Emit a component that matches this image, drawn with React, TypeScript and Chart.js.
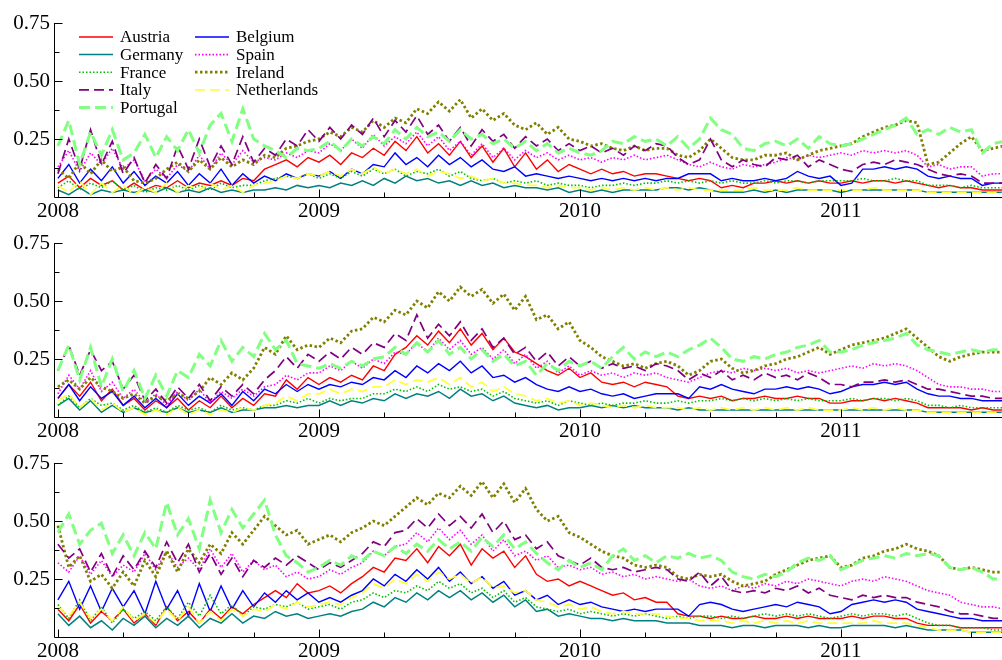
import React, { useEffect, useRef } from "react";
import { Chart, registerables } from "chart.js";

Chart.register(...registerables);

// Sampling grid: values are read every half month starting January 2008.
const START_YEAR = 2008;
const STEPS_PER_YEAR = 24;

const countries = [
  "Austria", "Belgium", "Germany", "Spain", "France",
  "Ireland", "Italy", "Netherlands", "Portugal",
];

const yearTicks = [2008, 2009, 2010, 2011];
const valueTicks = [0.25, 0.5, 0.75];

// ---------- Panel A (top) ----------
const austriaA = [
  0.06, 0.09, 0.04, 0.08, 0.05, 0.07, 0.03, 0.06, 0.03, 0.05, 0.04, 0.07, 0.04, 0.06, 0.05, 0.07, 0.05, 0.08, 0.07, 0.12, 0.14, 0.16, 0.13, 0.17,
  0.15, 0.18, 0.14, 0.19, 0.17, 0.21, 0.18, 0.24, 0.2, 0.26, 0.19, 0.23, 0.18, 0.24, 0.17, 0.22, 0.15, 0.21, 0.13, 0.19, 0.12, 0.16, 0.11, 0.14,
  0.12, 0.1, 0.12, 0.1, 0.11, 0.09, 0.1, 0.1, 0.09, 0.08, 0.07, 0.08, 0.07, 0.04, 0.05, 0.04, 0.06, 0.06, 0.07, 0.06, 0.07, 0.06, 0.07, 0.06,
  0.06, 0.07, 0.06, 0.07, 0.07, 0.06, 0.07, 0.06, 0.05, 0.04, 0.05, 0.04, 0.04, 0.03, 0.03, 0.03,
];
const belgiumA = [
  0.08, 0.14, 0.06, 0.12, 0.07, 0.13, 0.06, 0.11, 0.05, 0.09, 0.06, 0.11, 0.05, 0.1, 0.06, 0.12, 0.05, 0.1, 0.06, 0.09, 0.07, 0.1, 0.08, 0.1,
  0.09, 0.11, 0.08, 0.12, 0.1, 0.14, 0.13, 0.19, 0.14, 0.17, 0.13, 0.18, 0.14, 0.17, 0.13, 0.16, 0.12, 0.11, 0.13, 0.09, 0.1, 0.09, 0.08, 0.09,
  0.08, 0.07, 0.08, 0.07, 0.08, 0.07, 0.08, 0.07, 0.08, 0.08, 0.1, 0.1, 0.1, 0.07, 0.08, 0.07, 0.07, 0.08, 0.07, 0.08, 0.11, 0.09, 0.08, 0.09,
  0.05, 0.06, 0.12, 0.12, 0.13, 0.12, 0.13, 0.12, 0.09, 0.08, 0.09, 0.08, 0.08, 0.05, 0.06, 0.06,
];
const germanyA = [
  0.03, 0.01, 0.04, 0.01, 0.03, 0.02, 0.03, 0.02, 0.03, 0.02, 0.04, 0.02, 0.03, 0.02, 0.04, 0.02, 0.03, 0.02, 0.03, 0.03, 0.04, 0.03, 0.05, 0.04,
  0.05, 0.04, 0.06, 0.05, 0.07, 0.05, 0.08, 0.06, 0.09, 0.07, 0.08, 0.06, 0.07, 0.05, 0.07, 0.05, 0.06, 0.04, 0.05, 0.04, 0.04, 0.03, 0.04, 0.02,
  0.03, 0.02, 0.03, 0.02, 0.03, 0.03, 0.03, 0.03, 0.04, 0.04, 0.03, 0.04, 0.03, 0.02, 0.02, 0.02, 0.03, 0.02, 0.03, 0.02, 0.03, 0.03, 0.03, 0.03,
  0.02, 0.03, 0.03, 0.03, 0.03, 0.03, 0.03, 0.03, 0.02, 0.02, 0.02, 0.02, 0.02, 0.02, 0.02, 0.02,
];
const spainA = [
  0.13, 0.2, 0.11, 0.19, 0.14, 0.21, 0.12, 0.16, 0.07, 0.12, 0.08, 0.14, 0.11, 0.18, 0.12, 0.19, 0.14, 0.2, 0.15, 0.17, 0.16, 0.19, 0.17, 0.2,
  0.19, 0.23, 0.2, 0.25, 0.21, 0.27, 0.22, 0.26, 0.23, 0.28, 0.22, 0.26, 0.2, 0.24, 0.18, 0.23, 0.17, 0.21, 0.16, 0.2, 0.17, 0.19, 0.16, 0.18,
  0.16, 0.17, 0.15, 0.17, 0.16, 0.18, 0.16, 0.17, 0.18, 0.16, 0.14, 0.13, 0.15, 0.13, 0.12, 0.14, 0.13, 0.14, 0.15, 0.17, 0.16, 0.18, 0.17, 0.18,
  0.19, 0.18, 0.2, 0.19, 0.2, 0.19, 0.2, 0.18, 0.13, 0.14, 0.12, 0.13, 0.13, 0.09, 0.1, 0.1,
];
const franceA = [
  0.04, 0.07, 0.03, 0.06, 0.04, 0.07, 0.03, 0.05, 0.02, 0.04, 0.03, 0.05, 0.03, 0.05, 0.03, 0.06, 0.04, 0.05, 0.05, 0.07, 0.08, 0.09, 0.08, 0.1,
  0.08, 0.1, 0.08, 0.11, 0.09, 0.12, 0.1, 0.12, 0.09, 0.11, 0.1, 0.12, 0.09, 0.11, 0.08, 0.07, 0.08, 0.06, 0.07, 0.06, 0.07, 0.05, 0.06, 0.05,
  0.05, 0.04, 0.05, 0.05, 0.06, 0.05, 0.06, 0.06, 0.07, 0.06, 0.07, 0.06, 0.07, 0.06, 0.07, 0.06, 0.06, 0.07, 0.06, 0.07, 0.07, 0.06, 0.07, 0.07,
  0.07, 0.07, 0.08, 0.07, 0.07, 0.08, 0.07, 0.07, 0.05, 0.05, 0.05, 0.04, 0.05, 0.04, 0.04, 0.04,
];
const irelandA = [
  0.12, 0.08, 0.15, 0.1, 0.16, 0.11, 0.13, 0.07, 0.06, 0.08, 0.12, 0.15, 0.11, 0.16, 0.12, 0.17, 0.13, 0.16, 0.14, 0.18, 0.17, 0.21, 0.22, 0.24,
  0.25, 0.28, 0.26, 0.3, 0.28, 0.33, 0.3, 0.34, 0.32, 0.38, 0.36, 0.41, 0.37, 0.42, 0.34, 0.38, 0.33, 0.36, 0.31, 0.29, 0.32, 0.27, 0.3, 0.25,
  0.24, 0.22, 0.23, 0.21, 0.2, 0.22, 0.2, 0.21, 0.21, 0.18, 0.17, 0.2, 0.25, 0.21, 0.17, 0.16, 0.16, 0.18, 0.18, 0.19, 0.16, 0.18, 0.2, 0.21,
  0.22, 0.23, 0.26, 0.28, 0.3, 0.31, 0.33, 0.32, 0.14, 0.15, 0.19, 0.23, 0.26, 0.2, 0.21, 0.22,
];
const italyA = [
  0.1, 0.25, 0.12, 0.29, 0.14, 0.24, 0.1, 0.17, 0.06, 0.14, 0.08, 0.22, 0.12, 0.25, 0.13, 0.22, 0.14, 0.26, 0.15, 0.21, 0.18, 0.25, 0.22, 0.29,
  0.24, 0.3, 0.25, 0.31, 0.27, 0.34, 0.26, 0.33, 0.28, 0.35, 0.27, 0.31, 0.24, 0.3, 0.22, 0.29, 0.24, 0.27, 0.21, 0.26, 0.22, 0.25, 0.2, 0.23,
  0.2, 0.22, 0.19, 0.21, 0.18, 0.22, 0.2, 0.23, 0.22, 0.17, 0.14, 0.16, 0.25, 0.16, 0.13, 0.16, 0.14, 0.13, 0.17, 0.16, 0.18, 0.13, 0.16, 0.14,
  0.12, 0.11, 0.14, 0.15, 0.14, 0.16, 0.15, 0.14, 0.12, 0.1, 0.09, 0.1, 0.09, 0.06, 0.06, 0.06,
];
const netherlandsA = [
  0.05, 0.02, 0.07, 0.01, 0.06, 0.02, 0.05, 0.01, 0.04, 0.02, 0.06, 0.02, 0.05, 0.03, 0.06, 0.03, 0.05, 0.02, 0.05, 0.06, 0.07, 0.09, 0.08, 0.1,
  0.09, 0.11, 0.09, 0.12, 0.1, 0.13, 0.1, 0.12, 0.1, 0.12, 0.09, 0.11, 0.1, 0.08, 0.09, 0.07, 0.08, 0.06, 0.06, 0.05, 0.05, 0.04, 0.05, 0.04,
  0.04, 0.03, 0.04, 0.03, 0.04, 0.03, 0.04, 0.03, 0.04, 0.03, 0.04, 0.03, 0.03, 0.03, 0.03, 0.03, 0.04, 0.03, 0.03, 0.03, 0.04, 0.03, 0.03, 0.03,
  0.03, 0.03, 0.03, 0.04, 0.03, 0.03, 0.03, 0.03, 0.02, 0.02, 0.02, 0.02, 0.02, 0.02, 0.02, 0.02,
];
const portugalA = [
  0.22, 0.33, 0.14, 0.28, 0.18, 0.29, 0.16, 0.19, 0.27, 0.17, 0.26, 0.2, 0.29, 0.19, 0.31, 0.36, 0.24, 0.38, 0.25, 0.22, 0.2, 0.17, 0.21, 0.2,
  0.21, 0.24, 0.2, 0.25, 0.22, 0.26, 0.23, 0.29, 0.25, 0.3, 0.26, 0.28, 0.24, 0.29, 0.25, 0.27, 0.23, 0.25, 0.21, 0.24, 0.2, 0.23, 0.19, 0.21,
  0.19, 0.18, 0.2, 0.24, 0.23, 0.26, 0.24, 0.25, 0.22, 0.26, 0.21, 0.25, 0.34, 0.29, 0.27, 0.21, 0.2, 0.23, 0.24, 0.22, 0.25, 0.21, 0.26, 0.23,
  0.22, 0.23, 0.25, 0.27, 0.29, 0.31, 0.34, 0.27, 0.29, 0.27, 0.3, 0.28, 0.29, 0.19, 0.23, 0.24,
];

// ---------- Panel B (middle) ----------
const austriaB = [
  0.08, 0.14, 0.09, 0.15, 0.07, 0.12, 0.05, 0.08, 0.03, 0.07, 0.04, 0.08, 0.03, 0.07, 0.04, 0.09, 0.04, 0.08, 0.05, 0.1, 0.09, 0.16, 0.12, 0.17,
  0.14, 0.17, 0.15, 0.18, 0.16, 0.22, 0.2, 0.27, 0.3, 0.35, 0.31, 0.37, 0.32, 0.38, 0.31, 0.36, 0.29, 0.34, 0.28, 0.26, 0.23, 0.2, 0.18, 0.21,
  0.17, 0.19, 0.15, 0.14, 0.15, 0.13, 0.15, 0.14, 0.13, 0.09, 0.08, 0.09, 0.08, 0.09, 0.07, 0.08, 0.08, 0.09, 0.08, 0.08, 0.09, 0.08, 0.08, 0.06,
  0.06, 0.07, 0.07, 0.08, 0.07, 0.08, 0.07, 0.06, 0.04, 0.04, 0.04, 0.04, 0.03, 0.04, 0.03, 0.03,
];
const belgiumB = [
  0.08, 0.14, 0.07, 0.13, 0.08, 0.11, 0.05, 0.09, 0.04, 0.08, 0.04, 0.1, 0.05, 0.09, 0.06, 0.1, 0.05, 0.11, 0.07, 0.12, 0.1, 0.14, 0.11, 0.14,
  0.12, 0.14, 0.13, 0.15, 0.14, 0.17, 0.16, 0.2, 0.17, 0.22, 0.19, 0.23, 0.2, 0.24, 0.19, 0.22, 0.17, 0.18, 0.15, 0.17, 0.14, 0.12, 0.11, 0.13,
  0.11, 0.12, 0.1, 0.09, 0.1, 0.08, 0.09, 0.1, 0.1, 0.1, 0.08, 0.13, 0.12, 0.14, 0.12, 0.11, 0.1, 0.12, 0.12, 0.13, 0.12, 0.13, 0.12, 0.1,
  0.11, 0.13, 0.14, 0.14, 0.15, 0.14, 0.15, 0.12, 0.1, 0.09, 0.09, 0.08, 0.08, 0.07, 0.07, 0.07,
];
const germanyB = [
  0.05, 0.08, 0.03, 0.07, 0.02, 0.05, 0.02, 0.04, 0.02, 0.03, 0.02, 0.04, 0.02, 0.03, 0.02, 0.04, 0.02, 0.03, 0.03, 0.04, 0.04, 0.05, 0.04, 0.05,
  0.05, 0.07, 0.05, 0.07, 0.06, 0.08, 0.07, 0.1, 0.08, 0.1, 0.09, 0.11, 0.08, 0.12, 0.09, 0.1, 0.07, 0.09, 0.06, 0.05, 0.04, 0.05, 0.03, 0.04,
  0.04, 0.05, 0.04, 0.05, 0.04, 0.05, 0.04, 0.04, 0.04, 0.03, 0.04, 0.03, 0.03, 0.03, 0.03, 0.03, 0.03, 0.03, 0.03, 0.03, 0.03, 0.03, 0.03, 0.03,
  0.03, 0.03, 0.03, 0.03, 0.03, 0.03, 0.03, 0.03, 0.02, 0.02, 0.02, 0.02, 0.02, 0.02, 0.02, 0.02,
];
const spainB = [
  0.1, 0.18, 0.12, 0.2, 0.11, 0.15, 0.08, 0.12, 0.06, 0.1, 0.05, 0.11, 0.07, 0.12, 0.06, 0.11, 0.08, 0.12, 0.09, 0.13, 0.14, 0.18, 0.16, 0.19,
  0.19, 0.22, 0.2, 0.24, 0.21, 0.25, 0.23, 0.28, 0.27, 0.32, 0.28, 0.34, 0.29, 0.33, 0.27, 0.3, 0.25, 0.29, 0.23, 0.27, 0.21, 0.24, 0.19, 0.22,
  0.18, 0.2, 0.18, 0.19, 0.17, 0.19, 0.18, 0.19, 0.17, 0.16, 0.15, 0.17, 0.19, 0.2, 0.19, 0.21, 0.2, 0.21, 0.2, 0.21, 0.19, 0.2, 0.19, 0.2,
  0.21, 0.22, 0.21, 0.23, 0.22, 0.23, 0.22, 0.2, 0.17, 0.14, 0.13, 0.13, 0.12, 0.12, 0.11, 0.11,
];
const franceB = [
  0.05, 0.09, 0.04, 0.08, 0.05, 0.06, 0.03, 0.05, 0.02, 0.04, 0.02, 0.05, 0.03, 0.04, 0.02, 0.05, 0.03, 0.04, 0.03, 0.05, 0.05, 0.07, 0.06, 0.08,
  0.06, 0.08, 0.07, 0.08, 0.08, 0.1, 0.1, 0.12, 0.11, 0.13, 0.11, 0.14, 0.12, 0.13, 0.11, 0.12, 0.09, 0.11, 0.08, 0.07, 0.06, 0.07, 0.05, 0.07,
  0.06, 0.05, 0.06, 0.05, 0.06, 0.06, 0.07, 0.06, 0.06, 0.07, 0.06, 0.07, 0.07, 0.08, 0.07, 0.08, 0.07, 0.08, 0.07, 0.08, 0.07, 0.08, 0.07, 0.07,
  0.07, 0.08, 0.07, 0.08, 0.08, 0.07, 0.08, 0.07, 0.05, 0.05, 0.04, 0.05, 0.04, 0.04, 0.04, 0.04,
];
const irelandB = [
  0.13, 0.16, 0.12, 0.17, 0.13, 0.11, 0.08, 0.1, 0.06, 0.09, 0.07, 0.1, 0.08, 0.11, 0.17, 0.14, 0.19, 0.16, 0.21, 0.3, 0.27, 0.35, 0.29, 0.31,
  0.3, 0.34, 0.32, 0.37, 0.38, 0.43, 0.41, 0.46, 0.44, 0.5, 0.47, 0.54, 0.5, 0.56, 0.52, 0.55, 0.49, 0.53, 0.46, 0.52, 0.42, 0.44, 0.38, 0.41,
  0.33, 0.3, 0.26, 0.24, 0.22, 0.23, 0.21, 0.23, 0.24, 0.22, 0.18, 0.2, 0.24, 0.25, 0.21, 0.19, 0.2, 0.22, 0.23, 0.25, 0.26, 0.28, 0.3, 0.27,
  0.29, 0.31, 0.32, 0.33, 0.34, 0.36, 0.38, 0.34, 0.3, 0.26, 0.24, 0.26, 0.27, 0.28, 0.28, 0.28,
];
const italyB = [
  0.2, 0.31, 0.18, 0.29, 0.2, 0.24, 0.12, 0.18, 0.07, 0.12, 0.06, 0.13, 0.08, 0.14, 0.07, 0.13, 0.09, 0.14, 0.1, 0.16, 0.2, 0.26, 0.21, 0.27,
  0.24, 0.28, 0.25, 0.3, 0.27, 0.32, 0.3, 0.36, 0.33, 0.44, 0.34, 0.4, 0.35, 0.41, 0.33, 0.38, 0.3, 0.34, 0.27, 0.3, 0.24, 0.28, 0.22, 0.26,
  0.22, 0.24, 0.21, 0.23, 0.21, 0.22, 0.2, 0.23, 0.22, 0.2, 0.16, 0.19, 0.17, 0.2, 0.16, 0.18, 0.16, 0.19, 0.17, 0.18, 0.16, 0.19, 0.17, 0.14,
  0.14, 0.13, 0.15, 0.15, 0.16, 0.15, 0.16, 0.14, 0.12, 0.12, 0.11, 0.1, 0.09, 0.09, 0.08, 0.08,
];
const netherlandsB = [
  0.07, 0.1, 0.04, 0.08, 0.03, 0.06, 0.02, 0.04, 0.01, 0.03, 0.01, 0.04, 0.01, 0.03, 0.01, 0.03, 0.02, 0.04, 0.03, 0.05, 0.06, 0.09, 0.07, 0.1,
  0.1, 0.12, 0.1, 0.12, 0.11, 0.13, 0.13, 0.16, 0.14, 0.16, 0.15, 0.17, 0.14, 0.17, 0.13, 0.15, 0.11, 0.13, 0.1, 0.09, 0.07, 0.08, 0.06, 0.07,
  0.05, 0.06, 0.05, 0.04, 0.05, 0.04, 0.05, 0.04, 0.04, 0.04, 0.03, 0.04, 0.03, 0.04, 0.03, 0.04, 0.03, 0.04, 0.03, 0.04, 0.03, 0.04, 0.03, 0.03,
  0.03, 0.04, 0.03, 0.04, 0.03, 0.04, 0.03, 0.03, 0.02, 0.02, 0.02, 0.02, 0.02, 0.02, 0.02, 0.02,
];
const portugalB = [
  0.2, 0.31, 0.16, 0.3, 0.13, 0.25, 0.11, 0.2, 0.08, 0.18, 0.09, 0.2, 0.17, 0.27, 0.22, 0.33, 0.24, 0.3, 0.26, 0.36, 0.29, 0.33, 0.23, 0.22,
  0.21, 0.23, 0.21, 0.24, 0.22, 0.25, 0.26, 0.3, 0.27, 0.32, 0.28, 0.33, 0.27, 0.3, 0.25, 0.29, 0.24, 0.27, 0.22, 0.24, 0.18, 0.23, 0.2, 0.24,
  0.22, 0.24, 0.21, 0.26, 0.3, 0.25, 0.28, 0.26, 0.28, 0.26, 0.29, 0.31, 0.34, 0.3, 0.25, 0.24, 0.26, 0.25, 0.27, 0.28, 0.3, 0.31, 0.33, 0.28,
  0.28, 0.29, 0.31, 0.32, 0.33, 0.34, 0.36, 0.31, 0.29, 0.28, 0.27, 0.28, 0.29, 0.28, 0.29, 0.29,
];

// ---------- Panel C (bottom) ----------
const austriaC = [
  0.12, 0.07, 0.14, 0.06, 0.11, 0.07, 0.12, 0.06, 0.1, 0.05, 0.13, 0.07, 0.11, 0.06, 0.12, 0.08, 0.13, 0.1, 0.14, 0.17, 0.2, 0.17, 0.23, 0.19,
  0.2, 0.22, 0.19, 0.23, 0.26, 0.3, 0.28, 0.34, 0.33, 0.38, 0.32, 0.39, 0.35, 0.4, 0.31, 0.38, 0.34, 0.37, 0.3, 0.35, 0.27, 0.24, 0.25, 0.22,
  0.24, 0.22, 0.2, 0.18, 0.19, 0.16, 0.17, 0.15, 0.15, 0.1, 0.09, 0.09, 0.08, 0.09, 0.08, 0.08, 0.09, 0.08, 0.08, 0.09, 0.08, 0.09, 0.08, 0.08,
  0.08, 0.09, 0.08, 0.09, 0.09, 0.08, 0.08, 0.06, 0.05, 0.05, 0.05, 0.04, 0.04, 0.04, 0.04, 0.04,
];
const belgiumC = [
  0.16, 0.24, 0.12, 0.22, 0.11, 0.21, 0.13, 0.2, 0.1, 0.24, 0.12, 0.2, 0.09, 0.23, 0.11, 0.22, 0.12, 0.2, 0.13, 0.19, 0.15, 0.2, 0.16, 0.19,
  0.15, 0.17, 0.15, 0.18, 0.2, 0.25, 0.22, 0.27, 0.24, 0.29, 0.25, 0.3, 0.24, 0.28, 0.23, 0.26, 0.21, 0.24, 0.18, 0.2, 0.16, 0.18, 0.14, 0.16,
  0.14, 0.15, 0.13, 0.12, 0.11, 0.12, 0.11, 0.12, 0.12, 0.12, 0.09, 0.14, 0.15, 0.14, 0.12, 0.11, 0.12, 0.13, 0.14, 0.13, 0.15, 0.14, 0.13, 0.1,
  0.11, 0.14, 0.15, 0.16, 0.15, 0.16, 0.15, 0.12, 0.11, 0.1, 0.09, 0.08, 0.08, 0.07, 0.07, 0.07,
];
const germanyC = [
  0.1, 0.05, 0.09, 0.04, 0.07, 0.03, 0.08, 0.05, 0.09, 0.04, 0.08, 0.05, 0.09, 0.04, 0.08, 0.06, 0.1, 0.06, 0.09, 0.08, 0.11, 0.09, 0.1, 0.08,
  0.09, 0.1, 0.09, 0.11, 0.12, 0.15, 0.13, 0.17, 0.15, 0.19, 0.16, 0.2, 0.17, 0.2, 0.16, 0.19, 0.15, 0.18, 0.13, 0.16, 0.11, 0.12, 0.09, 0.1,
  0.09, 0.08, 0.08, 0.07, 0.08, 0.07, 0.07, 0.07, 0.06, 0.06, 0.06, 0.05, 0.05, 0.05, 0.04, 0.05, 0.05, 0.04, 0.05, 0.05, 0.05, 0.04, 0.05, 0.04,
  0.04, 0.05, 0.05, 0.05, 0.05, 0.04, 0.05, 0.04, 0.03, 0.03, 0.03, 0.03, 0.02, 0.02, 0.02, 0.02,
];
const spainC = [
  0.32, 0.28, 0.35, 0.27, 0.33, 0.26, 0.31, 0.28, 0.36, 0.29, 0.37, 0.3, 0.34, 0.29, 0.38, 0.3, 0.36, 0.28, 0.33, 0.29, 0.31, 0.26, 0.28, 0.25,
  0.26, 0.29, 0.27, 0.3, 0.32, 0.37, 0.35, 0.39, 0.4, 0.45, 0.41, 0.47, 0.42, 0.46, 0.4, 0.44, 0.37, 0.42, 0.35, 0.37, 0.33, 0.35, 0.3, 0.31,
  0.29, 0.3, 0.27, 0.28, 0.26, 0.27, 0.25, 0.26, 0.25, 0.24, 0.25, 0.22, 0.21, 0.22, 0.2, 0.22, 0.21, 0.23, 0.22, 0.24, 0.23, 0.25, 0.24, 0.23,
  0.22, 0.24, 0.25, 0.24, 0.26, 0.25, 0.24, 0.22, 0.2, 0.19, 0.18, 0.15, 0.14, 0.13, 0.13, 0.12,
];
const franceC = [
  0.14, 0.08, 0.16, 0.07, 0.13, 0.06, 0.12, 0.08, 0.11, 0.07, 0.13, 0.08, 0.15, 0.09, 0.18, 0.1, 0.14, 0.09, 0.13, 0.12, 0.14, 0.13, 0.15, 0.12,
  0.13, 0.14, 0.12, 0.15, 0.16, 0.19, 0.17, 0.2, 0.19, 0.22, 0.2, 0.24, 0.21, 0.23, 0.19, 0.21, 0.17, 0.2, 0.15, 0.17, 0.13, 0.12, 0.11, 0.12,
  0.1, 0.11, 0.1, 0.09, 0.1, 0.09, 0.1, 0.09, 0.08, 0.09, 0.08, 0.09, 0.09, 0.08, 0.09, 0.08, 0.09, 0.1, 0.09, 0.1, 0.09, 0.1, 0.09, 0.08,
  0.09, 0.1, 0.09, 0.1, 0.1, 0.09, 0.1, 0.08, 0.06, 0.05, 0.05, 0.04, 0.04, 0.04, 0.03, 0.03,
];
const irelandC = [
  0.48, 0.3, 0.35, 0.24, 0.27, 0.21, 0.28, 0.22, 0.33, 0.26, 0.37, 0.28, 0.38, 0.32, 0.4, 0.36, 0.45, 0.4, 0.46, 0.52, 0.48, 0.44, 0.46, 0.4,
  0.42, 0.44, 0.41, 0.45, 0.47, 0.5, 0.48, 0.52, 0.56, 0.6, 0.57, 0.62, 0.6, 0.65, 0.61, 0.67, 0.6, 0.66, 0.58, 0.64, 0.55, 0.5, 0.52, 0.45,
  0.43, 0.4, 0.37, 0.35, 0.34, 0.31, 0.3, 0.31, 0.3, 0.26, 0.25, 0.27, 0.26, 0.27, 0.24, 0.22, 0.23, 0.24, 0.27, 0.29, 0.31, 0.33, 0.34, 0.35,
  0.3, 0.31, 0.34, 0.35, 0.37, 0.38, 0.4, 0.38, 0.37, 0.35, 0.3, 0.29, 0.3, 0.29, 0.28, 0.28,
];
const italyC = [
  0.4, 0.34, 0.38, 0.28, 0.36, 0.26, 0.35, 0.29, 0.37, 0.3, 0.41, 0.32, 0.4, 0.28, 0.36, 0.27, 0.34, 0.26, 0.33, 0.3, 0.34, 0.31, 0.35, 0.32,
  0.29, 0.32, 0.3, 0.33, 0.36, 0.41, 0.39, 0.45, 0.46, 0.51, 0.47, 0.53, 0.48, 0.52, 0.47, 0.53, 0.45, 0.5, 0.42, 0.44, 0.38, 0.41, 0.35, 0.33,
  0.31, 0.34, 0.3, 0.29, 0.3, 0.28, 0.29, 0.3, 0.29, 0.25, 0.24, 0.28, 0.22, 0.26, 0.2, 0.19, 0.2, 0.19, 0.21, 0.2, 0.22, 0.19, 0.21, 0.18,
  0.17, 0.16, 0.18, 0.17, 0.18, 0.17, 0.17, 0.15, 0.14, 0.13, 0.11, 0.1, 0.1, 0.09, 0.08, 0.08,
];
const netherlandsC = [
  0.13, 0.09, 0.15, 0.08, 0.12, 0.07, 0.13, 0.07, 0.1, 0.06, 0.12, 0.07, 0.13, 0.06, 0.11, 0.07, 0.12, 0.09, 0.12, 0.11, 0.14, 0.12, 0.15, 0.13,
  0.14, 0.15, 0.14, 0.17, 0.19, 0.23, 0.21, 0.25, 0.23, 0.27, 0.24, 0.28, 0.25, 0.27, 0.23, 0.26, 0.21, 0.22, 0.19, 0.2, 0.16, 0.15, 0.13, 0.14,
  0.12, 0.13, 0.11, 0.1, 0.11, 0.1, 0.1, 0.1, 0.09, 0.08, 0.08, 0.07, 0.07, 0.07, 0.06, 0.07, 0.06, 0.07, 0.06, 0.07, 0.06, 0.07, 0.06, 0.06,
  0.06, 0.06, 0.06, 0.07, 0.06, 0.06, 0.06, 0.05, 0.04, 0.03, 0.03, 0.03, 0.02, 0.02, 0.02, 0.02,
];
const portugalC = [
  0.45, 0.53, 0.4, 0.46, 0.49, 0.36, 0.44, 0.35, 0.45, 0.38, 0.58, 0.44, 0.51, 0.38, 0.59, 0.45, 0.55, 0.47, 0.53, 0.59, 0.44, 0.35, 0.32, 0.28,
  0.3, 0.33, 0.31, 0.35, 0.33, 0.37, 0.35, 0.39, 0.36, 0.4, 0.37, 0.42, 0.38, 0.41, 0.37, 0.43, 0.39, 0.44, 0.38, 0.41, 0.36, 0.32, 0.29, 0.33,
  0.3, 0.32, 0.29, 0.35, 0.38, 0.33, 0.35, 0.32, 0.35, 0.34, 0.36, 0.34, 0.35, 0.33, 0.28, 0.26, 0.25, 0.27, 0.26, 0.28, 0.32, 0.34, 0.33, 0.35,
  0.29, 0.31, 0.33, 0.34, 0.35, 0.34, 0.36, 0.35, 0.36, 0.35, 0.3, 0.29, 0.3, 0.28, 0.25, 0.25,
];

const panelA = [austriaA, belgiumA, germanyA, spainA, franceA, irelandA, italyA, netherlandsA, portugalA];
const panelB = [austriaB, belgiumB, germanyB, spainB, franceB, irelandB, italyB, netherlandsB, portugalB];
const panelC = [austriaC, belgiumC, germanyC, spainC, franceC, irelandC, italyC, netherlandsC, portugalC];
const panels = [panelA, panelB, panelC];

// Line styling per country (same order as `countries`).
const lineColors = ["#ff0000", "#0000ff", "#008080", "#ff00ff", "#00c000", "#808000", "#800080", "#ffff40", "#80ff80"];
const lineDashes = [[], [], [], [1.5, 2], [1.5, 2], [2.5, 2.5], [10, 5], [10, 5], [11, 5]];
const lineWidths = [1.4, 1.4, 1.5, 1.6, 1.6, 2.8, 1.7, 1.8, 3];

const SERIF = '"Liberation Serif", "Times New Roman", Times, serif';

// Axis lines plus inward tick marks (years / quarters, and eighths on the value axis).
const axisMarks = {
  id: "axisMarks",
  afterDraw(chart: any) {
    const { ctx, chartArea, scales } = chart;
    const xs = scales.x;
    const ys = scales.y;
    const left = Math.round(chartArea.left) + 0.5;
    const bottom = Math.round(chartArea.bottom) + 0.5;
    ctx.save();
    ctx.strokeStyle = "#000";
    ctx.lineWidth = 1;
    ctx.setLineDash([]);
    ctx.beginPath();
    ctx.moveTo(left, ys.getPixelForValue(0.75));
    ctx.lineTo(left, bottom);
    ctx.lineTo(chartArea.right, bottom);
    for (let q = 0; q <= 14; q++) {
      const v = 2008 + q / 4;
      const px = Math.round(xs.getPixelForValue(v)) + 0.5;
      if (px > chartArea.right) break;
      const len = q % 4 === 0 ? 8 : 5;
      ctx.moveTo(px, bottom);
      ctx.lineTo(px, bottom - len);
    }
    for (let e = 1; e <= 6; e++) {
      const v = e / 8;
      const py = Math.round(ys.getPixelForValue(v)) + 0.5;
      const len = e % 2 === 0 ? 8 : 5;
      ctx.moveTo(left, py);
      ctx.lineTo(left + len, py);
    }
    ctx.stroke();
    ctx.restore();
  },
};

// Two-column key in the upper-left of the first panel.
const seriesKey = {
  id: "seriesKey",
  afterDatasetsDraw(chart: any, _args: any, opts: any) {
    if (!opts || !opts.show) return;
    const ctx = chart.ctx;
    const colX = [79, 195];
    const top = 37;
    const step = 17.6;
    ctx.save();
    ctx.font = `17px ${SERIF}`;
    ctx.textBaseline = "middle";
    ctx.textAlign = "left";
    chart.data.datasets.forEach((d: any, i: number) => {
      const x0 = colX[i % 2];
      const y = top + Math.floor(i / 2) * step;
      ctx.beginPath();
      ctx.strokeStyle = d.borderColor;
      ctx.lineWidth = d.borderWidth;
      ctx.setLineDash(d.borderDash || []);
      ctx.moveTo(x0, y);
      ctx.lineTo(x0 + 34, y);
      ctx.stroke();
      ctx.setLineDash([]);
      ctx.fillStyle = "#000";
      ctx.fillText(d.label, x0 + 41, y + 1);
    });
    ctx.restore();
  },
};

function buildConfig(series: number[][], showKey: boolean): any {
  return {
    type: "line",
    data: {
      datasets: series.map((vals, i) => ({
        label: countries[i],
        data: vals.map((v, k) => ({ x: START_YEAR + k / STEPS_PER_YEAR, y: v })),
        borderColor: lineColors[i],
        borderWidth: lineWidths[i],
        borderDash: lineDashes[i],
        borderCapStyle: "butt",
        borderJoinStyle: "miter",
        pointRadius: 0,
        tension: 0,
        fill: false,
        order: series.length - i,
      })),
    },
    options: {
      animation: false,
      responsive: false,
      devicePixelRatio: 1,
      events: [],
      layout: { padding: { top: 23, right: 0, bottom: 0, left: 0 } },
      plugins: {
        legend: { display: false },
        tooltip: { enabled: false },
        seriesKey: { show: showKey },
      },
      scales: {
        x: {
          type: "linear",
          min: 2007.985,
          max: 2011.617,
          afterFit: (s: any) => {
            s.height = 23;
          },
          grid: { display: false, drawTicks: false },
          border: { display: false },
          afterBuildTicks: (s: any) => {
            s.ticks = yearTicks.map((v) => ({ value: v }));
          },
          ticks: {
            autoSkip: false,
            maxRotation: 0,
            padding: 2,
            color: "#000",
            font: { family: SERIF, size: 21 },
            callback: (v: any) => String(v),
          },
        },
        y: {
          type: "linear",
          min: 0,
          max: 0.75,
          afterFit: (s: any) => {
            s.width = 54;
          },
          grid: { display: false, drawTicks: false },
          border: { display: false },
          afterBuildTicks: (s: any) => {
            s.ticks = valueTicks.map((v) => ({ value: v }));
          },
          ticks: {
            padding: 4,
            color: "#000",
            font: { family: SERIF, size: 21 },
            callback: (v: any) => Number(v).toFixed(2),
          },
        },
      },
    },
    plugins: [axisMarks, seriesKey],
  };
}

export default function App() {
  const canvases = useRef<(HTMLCanvasElement | null)[]>([]);

  useEffect(() => {
    const charts = panels.map((series, i) => {
      const el = canvases.current[i] as HTMLCanvasElement;
      return new Chart(el, buildConfig(series, i === 0));
    });
    return () => charts.forEach((c) => c.destroy());
  }, []);

  return (
    <div style={{ position: "absolute", left: 0, top: 0, width: 1002, height: 660, background: "#fff" }}>
      {panels.map((_, i) => (
        <canvas
          key={i}
          ref={(el) => {
            canvases.current[i] = el;
          }}
          width={1002}
          height={220}
          style={{ display: "block", width: 1002, height: 220 }}
        />
      ))}
    </div>
  );
}
